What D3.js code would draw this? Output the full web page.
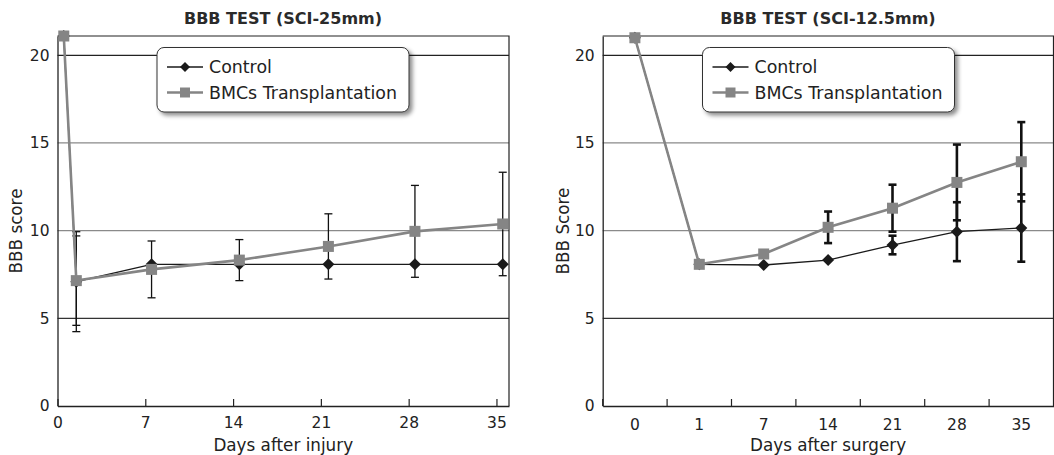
<!DOCTYPE html>
<html><head><meta charset="utf-8">
<script src="https://cdnjs.cloudflare.com/ajax/libs/d3/7.8.5/d3.min.js"></script>
<style>
html,body{margin:0;padding:0;background:#fff;}
svg{display:block;font-family:"DejaVu Sans",sans-serif;}
</style></head>
<body><svg id="c" width="1054" height="455"></svg>
<script>
// ---- data ----
const seriesNames = ["Control", "BMCs Transplantation"];
const yTicks = [0, 5, 10, 15, 20];

const leftTitle = "BBB TEST (SCI-25mm)";
const leftXLabel = "Days after injury";
const leftYLabel = "BBB score";
const leftXTicks = [0, 7, 14, 21, 28, 35];
const leftDays = [0.5, 1.5, 7.5, 14.5, 21.6, 28.5, 35.5];
const leftControl = [21.1, 7.09, 8.08, 8.08, 8.08, 8.08, 8.08];
const leftControlErr = [0, 2.85, 0, 0, 0, 0, 0];
const leftBMC = [21.1, 7.15, 7.79, 8.32, 9.1, 9.96, 10.38];
const leftBMCErr = [0, 2.55, 1.62, 1.17, 1.86, 2.62, 2.95];

const rightTitle = "BBB TEST (SCI-12.5mm)";
const rightXLabel = "Days after surgery";
const rightYLabel = "BBB Score";
const rightDays = ["0", "1", "7", "14", "21", "28", "35"];
const rightControl = [21, 8.08, 8.04, 8.32, 9.18, 9.94, 10.15];
const rightControlErr = [0, 0, 0, 0, 0.53, 1.68, 1.92];
const rightBMC = [21, 8.08, 8.67, 10.19, 11.28, 12.75, 13.93];
const rightBMCErr = [0, 0, 0, 0.9, 1.34, 2.16, 2.26];

// ---- drawing ----
const svg = d3.select("#c");
const defs = svg.append("defs");
const f = defs.append("filter").attr("id", "sh").attr("x", "-10%").attr("y", "-20%").attr("width", "130%").attr("height", "160%");
f.append("feDropShadow").attr("dx", 3).attr("dy", 3).attr("stdDeviation", 2).attr("flood-color", "#000").attr("flood-opacity", 0.45);

const ctrlColor = "#1a1a1a", bmcColor = "#858585";
const gridColors = {5: "#333", 10: "#8a8a8a", 15: "#8a8a8a", 20: "#222"};
const diamond = "M0,-6L6,0L0,6L-6,0Z";

function panel(opt) {
  const g = svg.append("g");
  const y = d3.scaleLinear().domain([0, 21.1]).range([406, 36]);
  const L = opt.left, R = opt.right, T = 36, B = 406;
  // gridlines
  g.selectAll(".grid").data(yTicks.filter(d => d > 0)).join("line")
    .attr("x1", L).attr("x2", R).attr("y1", d => y(d)).attr("y2", d => y(d))
    .attr("stroke", d => gridColors[d]).attr("stroke-width", 1.2);
  // frame
  g.append("path").attr("d", `M${L},${T}H${R}V${B}`).attr("fill", "none").attr("stroke", "#222").attr("stroke-width", 1.2);
  // y axis
  const ya = g.append("g").attr("transform", `translate(${L},0)`)
    .call(d3.axisLeft(y).tickValues(yTicks).tickSize(0).tickPadding(8));
  ya.select(".domain").attr("stroke", "#222").attr("stroke-width", 1.3);
  ya.selectAll("text").attr("font-size", 15.5).attr("fill", "#222").attr("font-family", "DejaVu Sans");
  // x axis
  const x = opt.x;
  const xa = g.append("g").attr("transform", `translate(0,${B})`);
  if (opt.band) {
    xa.call(d3.axisBottom(x).tickSize(0).tickPadding(13).tickSizeOuter(0));
    xa.selectAll(".tick").append("line")
      .attr("x1", -x.step() / 2).attr("x2", -x.step() / 2).attr("y1", 0).attr("y2", -7)
      .attr("stroke", "#222").attr("stroke-width", 1.2);
  } else {
    xa.call(d3.axisBottom(x).tickValues(opt.xTicks).tickSize(-7).tickPadding(11).tickSizeOuter(0));
    xa.selectAll(".tick line").attr("stroke", "#222").attr("stroke-width", 1.2);
  }
  xa.select(".domain").attr("stroke", "#222").attr("stroke-width", 1.3);
  xa.selectAll("text").attr("font-size", 15.5).attr("fill", "#222").attr("font-family", "DejaVu Sans");
  const xp = opt.band ? (d => x(d) + x.bandwidth() / 2) : x;

  // titles
  g.append("text").attr("x", opt.titleX).attr("y", 24).attr("text-anchor", "middle")
    .attr("font-size", 16).attr("font-weight", "bold").attr("fill", "#2a2a2a").text(opt.title);
  g.append("text").attr("x", (L + R) / 2).attr("y", 451).attr("text-anchor", "middle")
    .attr("font-size", 16.8).attr("fill", "#222").text(opt.xLabel);
  g.append("text").attr("transform", `translate(${opt.yLabelX},${231}) rotate(-90)`).attr("text-anchor", "middle")
    .attr("font-size", 16.8).attr("fill", "#222").text(opt.yLabel);

  // error bars
  const ew = opt.errWidth, cap = 4;
  [[opt.bmc, opt.bmcErr], [opt.ctrl, opt.ctrlErr]].forEach(([vals, errs]) => {
    const d = opt.days.map((dd, i) => ({x: xp(dd), v: vals[i], e: errs[i]})).filter(o => o.e > 0);
    const eg = g.append("g").attr("stroke", "#111").attr("stroke-width", ew);
    eg.selectAll(".v").data(d).join("line").attr("x1", o => o.x).attr("x2", o => o.x)
      .attr("y1", o => y(o.v - o.e)).attr("y2", o => y(o.v + o.e));
    eg.selectAll(".t").data(d).join("line").attr("x1", o => o.x - cap).attr("x2", o => o.x + cap)
      .attr("y1", o => y(o.v + o.e)).attr("y2", o => y(o.v + o.e));
    eg.selectAll(".b").data(d).join("line").attr("x1", o => o.x - cap).attr("x2", o => o.x + cap)
      .attr("y1", o => y(o.v - o.e)).attr("y2", o => y(o.v - o.e));
  });

  const line = d3.line().x(d => xp(d[0])).y(d => y(d[1]));
  // control
  const cd = opt.days.map((d, i) => [d, opt.ctrl[i]]);
  g.append("path").attr("d", line(cd)).attr("fill", "none").attr("stroke", ctrlColor).attr("stroke-width", 1.3);
  g.selectAll(".cm").data(cd).join("path").attr("d", diamond)
    .attr("transform", d => `translate(${xp(d[0])},${y(d[1])})`).attr("fill", ctrlColor);
  // bmc
  const bd = opt.days.map((d, i) => [d, opt.bmc[i]]);
  g.append("path").attr("d", line(bd)).attr("fill", "none").attr("stroke", bmcColor).attr("stroke-width", 2.6);
  g.selectAll(".bm").data(bd).join("rect")
    .attr("x", d => xp(d[0]) - 5.5).attr("y", d => y(d[1]) - 5.5).attr("width", 11).attr("height", 11)
    .attr("fill", bmcColor);

  // legend
  const lg = g.append("g").attr("transform", `translate(${opt.legX},47.5)`);
  lg.append("rect").attr("width", opt.legW).attr("height", 64.5).attr("rx", 7)
    .attr("fill", "#fff").attr("stroke", "#333").attr("stroke-width", 1).attr("filter", "url(#sh)");
  const rows = [{n: seriesNames[0], c: ctrlColor, w: 1.3, m: "d"}, {n: seriesNames[1], c: bmcColor, w: 2.6, m: "s"}];
  rows.forEach((r, i) => {
    const cy = 19.5 + i * 25.5;
    lg.append("line").attr("x1", 10).attr("x2", 46).attr("y1", cy).attr("y2", cy).attr("stroke", r.c).attr("stroke-width", r.w);
    if (r.m === "d") lg.append("path").attr("d", "M0,-5L5,0L0,5L-5,0Z").attr("transform", `translate(28,${cy})`).attr("fill", r.c);
    else lg.append("rect").attr("x", 23).attr("y", cy - 5).attr("width", 10).attr("height", 10).attr("fill", r.c);
    lg.append("text").attr("x", 52).attr("y", cy + 6).attr("font-size", 17.4).attr("fill", "#222").text(r.n);
  });
}

panel({
  left: 57.5, right: 509,
  x: d3.scaleLinear().domain([0, 36]).range([57.5, 509]), band: false, xTicks: leftXTicks,
  days: leftDays, ctrl: leftControl, ctrlErr: leftControlErr, bmc: leftBMC, bmcErr: leftBMCErr,
  title: leftTitle, titleX: 283, xLabel: leftXLabel, yLabel: leftYLabel, yLabelX: 22,
  errWidth: 1.3, legX: 157, legW: 252
});
panel({
  left: 602.7, right: 1053.5,
  x: d3.scaleBand().domain(rightDays).range([602.7, 1053.5]), band: true,
  days: rightDays, ctrl: rightControl, ctrlErr: rightControlErr, bmc: rightBMC, bmcErr: rightBMCErr,
  title: rightTitle, titleX: 828, xLabel: rightXLabel, yLabel: rightYLabel, yLabelX: 569,
  errWidth: 2.6, legX: 702.5, legW: 252
});
</script></body></html>
